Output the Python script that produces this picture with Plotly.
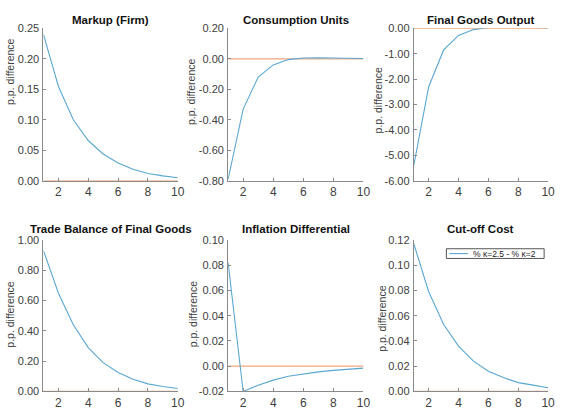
import plotly.graph_objects as go

W, H = 562, 413

periods = [1, 2, 3, 4, 5, 6, 7, 8, 9, 10]

markup_firm = [0.240, 0.155, 0.100, 0.066, 0.044, 0.029, 0.019, 0.012, 0.008, 0.005]
consumption_units = [-0.79, -0.33, -0.12, -0.04, -0.005, 0.005, 0.007, 0.006, 0.004, 0.002]
final_goods_output = [-5.40, -2.30, -0.85, -0.28, -0.05, 0.03, 0.05, 0.05, 0.03, 0.02]
trade_balance = [0.93, 0.65, 0.44, 0.29, 0.19, 0.125, 0.080, 0.050, 0.033, 0.020]
inflation_diff = [0.082, -0.020, -0.015, -0.011, -0.008, -0.006, -0.0045, -0.0033, -0.0022, -0.0015]
cutoff_cost = [0.117, 0.079, 0.053, 0.036, 0.024, 0.016, 0.011, 0.007, 0.005, 0.003]

titles = ["Markup (Firm)", "Consumption Units", "Final Goods Output",
          "Trade Balance of Final Goods", "Inflation Differential", "Cut-off Cost"]
series = [markup_firm, consumption_units, final_goods_output,
          trade_balance, inflation_diff, cutoff_cost]
y_ticks = [
    [0.00, 0.05, 0.10, 0.15, 0.20, 0.25],
    [-0.80, -0.60, -0.40, -0.20, 0.00, 0.20],
    [-6.00, -5.00, -4.00, -3.00, -2.00, -1.00, 0.00],
    [0.00, 0.20, 0.40, 0.60, 0.80, 1.00],
    [-0.02, 0.00, 0.02, 0.04, 0.06, 0.08, 0.10],
    [0.00, 0.02, 0.04, 0.06, 0.08, 0.10, 0.12],
]
x_ticks = [2, 4, 6, 8, 10]
legend_label = "% \u03ba=2.5 - % \u03ba=2"

BLUE = "#5aa7d3"
ORANGE = "#f2a77e"
AXIS = "#8a8a8a"
FONT = "Liberation Sans, Arial, sans-serif"
TICKFONT = dict(family=FONT, size=11, color="#404040")

# pixel boxes of each panel (left, right, top, bottom)
cols = [(44, 180), (231, 368), (419, 555)]
rows = [(23, 180), (241, 397)]
# pixel centres of the rotated y-axis labels
ylabel_pos = [(10, 67), (194, 88), (383, 97),
              (10, 317), (195, 317), (386, 322)]
# pixel centres (vertical) of the panel titles
title_y = [14, 14, 14, 230, 230, 230]

fig = go.Figure()
for i in range(6):
    r, c = divmod(i, 3)
    x0, x1 = cols[c]
    t, b = rows[r]
    sfx = "" if i == 0 else str(i + 1)
    xa, ya = "x" + sfx, "y" + sfx

    fig.add_trace(go.Scatter(x=periods, y=[0] * len(periods), xaxis=xa, yaxis=ya,
                             mode="lines", line=dict(color=ORANGE, width=1.2),
                             showlegend=False, hoverinfo="skip"))
    fig.add_trace(go.Scatter(x=periods, y=series[i], xaxis=xa, yaxis=ya,
                             mode="lines", line=dict(color=BLUE, width=1.1),
                             name=legend_label, showlegend=False))

    yt = y_ticks[i]
    fig.layout["xaxis" + sfx] = dict(
        domain=[x0 / W, x1 / W], anchor=ya, range=[1, 10],
        tickvals=x_ticks, ticktext=[str(v) for v in x_ticks],
        ticks="inside", ticklen=3, tickcolor=AXIS,
        showline=True, linecolor=AXIS, linewidth=1,
        showgrid=False, zeroline=False, tickfont=dict(TICKFONT, size=12))
    fig.layout["yaxis" + sfx] = dict(
        domain=[1 - b / H, 1 - t / H], anchor=xa, range=[yt[0], yt[-1]],
        tickvals=yt, ticktext=[f"{v:.2f}".replace("-0.00", "0.00") for v in yt],
        ticks="inside", ticklen=3, tickcolor=AXIS, ticklabelstandoff=1,
        showline=True, linecolor=AXIS, linewidth=1,
        showgrid=False, zeroline=False, tickfont=TICKFONT)

    fig.add_annotation(text="<b>" + titles[i] + "</b>", xref="paper", yref="paper",
                       x=(x0 + x1) / 2 / W, y=1 - title_y[i] / H, showarrow=False,
                       xanchor="center", yanchor="middle",
                       font=dict(family=FONT, size=11.5, color="#111111"))
    lx, ly = ylabel_pos[i]
    fig.add_annotation(text="p.p. difference", xref="paper", yref="paper",
                       x=lx / W, y=1 - ly / H, showarrow=False,
                       textangle=-90, xanchor="center", yanchor="middle",
                       font=dict(family=FONT, size=10.5, color="#404040"))

# legend box inside the Cut-off Cost panel
lx0, lx1, ly0, ly1 = 452, 551, 250, 260
fig.add_shape(type="rect", xref="paper", yref="paper",
              x0=lx0 / W, x1=lx1 / W, y0=1 - ly1 / H, y1=1 - ly0 / H,
              line=dict(color="#555555", width=1), fillcolor="white")
fig.add_shape(type="line", xref="paper", yref="paper",
              x0=455 / W, x1=474 / W, y0=1 - 255 / H, y1=1 - 255 / H,
              line=dict(color=BLUE, width=1.1))
fig.add_annotation(text=legend_label, xref="paper", yref="paper",
                   x=477 / W, y=1 - 255 / H, showarrow=False,
                   xanchor="left", yanchor="middle",
                   font=dict(family=FONT, size=8.5, color="#222222"))

fig.update_layout(
    width=W, height=H, margin=dict(l=0, r=0, t=0, b=0),
    paper_bgcolor="white", plot_bgcolor="white", showlegend=False,
)

fig.write_html("out.html")
